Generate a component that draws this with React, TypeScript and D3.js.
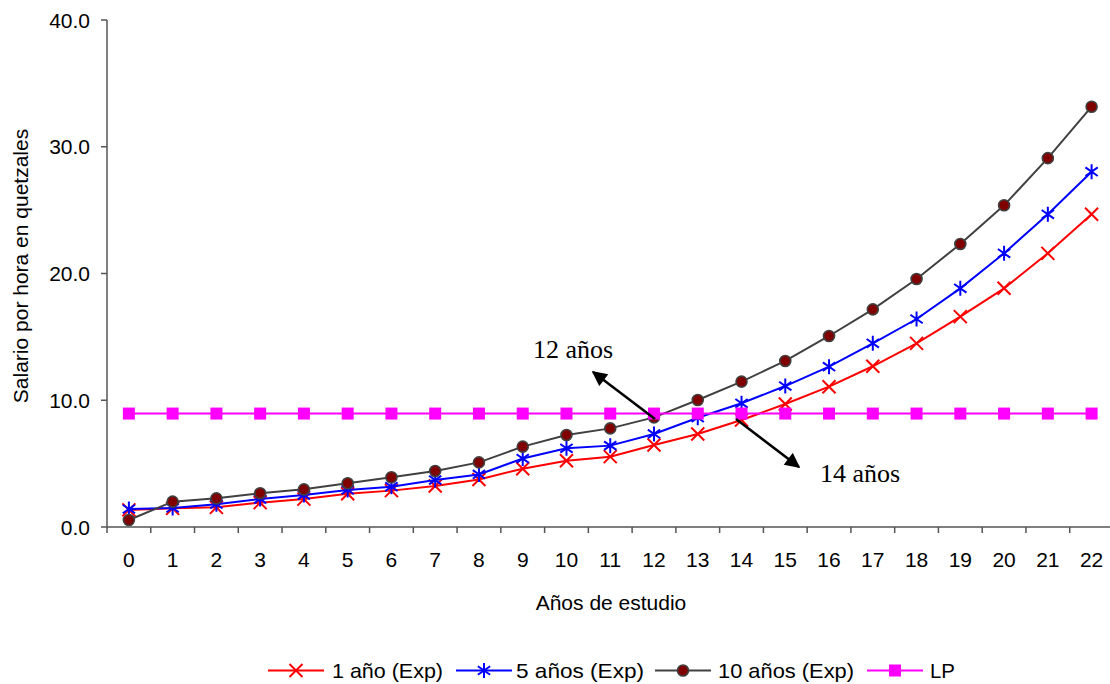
import React from "react";
import * as d3 from "d3";

// Años de estudio (eje X)
const years: string[] = Array.from({ length: 23 }, (_, i) => String(i));

// Salario por hora (quetzales) según experiencia
const exp1: number[] = [1.35, 1.47, 1.55, 1.92, 2.2, 2.62, 2.87, 3.23, 3.75, 4.6, 5.23, 5.55, 6.47, 7.34, 8.44, 9.7, 11.07, 12.68, 14.49, 16.6, 18.83, 21.59, 24.67];
const exp5: number[] = [1.42, 1.5, 1.8, 2.2, 2.52, 2.92, 3.18, 3.7, 4.15, 5.4, 6.21, 6.42, 7.34, 8.62, 9.76, 11.12, 12.65, 14.49, 16.41, 18.83, 21.59, 24.67, 28.03];
const exp10: number[] = [0.55, 2.0, 2.26, 2.66, 2.97, 3.45, 3.92, 4.42, 5.1, 6.34, 7.26, 7.78, 8.65, 10.02, 11.47, 13.1, 15.07, 17.17, 19.57, 22.33, 25.38, 29.1, 33.16];
const lp: number[] = years.map(() => 8.95);

const yTicks: number[] = [0, 10, 20, 30, 40];

const W = 1110;
const H = 684;
const left = 107;
const bandW = 43.76;
const top = 20;
const bottom = 527;

const sans = "Arial, 'Liberation Sans', Helvetica, sans-serif";
const serif = "'Times New Roman', 'Liberation Serif', serif";

type Kind = "x" | "star" | "dot" | "square";

function Marker({ kind, cx, cy }: { kind: Kind; cx: number; cy: number }) {
  if (kind === "x") {
    const s = 6.5;
    return (
      <path
        d={`M${cx - s},${cy - s}L${cx + s},${cy + s}M${cx - s},${cy + s}L${cx + s},${cy - s}`}
        stroke="#FF0000"
        strokeWidth={2}
        fill="none"
      />
    );
  }
  if (kind === "star") {
    const r = 7.5;
    const a = (Math.PI / 180) * 35;
    const dx = r * Math.cos(a);
    const dy = r * Math.sin(a);
    return (
      <path
        d={`M${cx},${cy - r}L${cx},${cy + r}M${cx - dx},${cy - dy}L${cx + dx},${cy + dy}M${cx - dx},${cy + dy}L${cx + dx},${cy - dy}`}
        stroke="#0000FF"
        strokeWidth={2}
        fill="none"
      />
    );
  }
  if (kind === "dot") {
    return <circle cx={cx} cy={cy} r={5.5} fill="#800000" stroke="#404040" strokeWidth={1.6} />;
  }
  return <rect x={cx - 6} y={cy - 6} width={12} height={12} fill="#FF00FF" />;
}

const seriesList: { name: string; values: number[]; color: string; kind: Kind }[] = [
  { name: "1 año (Exp)", values: exp1, color: "#FF0000", kind: "x" },
  { name: "5 años (Exp)", values: exp5, color: "#0000FF", kind: "star" },
  { name: "10 años (Exp)", values: exp10, color: "#404040", kind: "dot" },
  { name: "LP", values: lp, color: "#FF00FF", kind: "square" },
];

export default function App() {
  const x = d3.scaleBand<string>().domain(years).range([left, left + bandW * years.length]).padding(0);
  const y = d3.scaleLinear().domain([0, 40]).range([bottom, top]);
  const cx = (i: number) => (x(years[i]) as number) + x.bandwidth() / 2;

  const line = d3
    .line<number>()
    .x((_, i) => cx(i))
    .y((d) => y(d));

  // Leyenda: inicio de la línea de muestra, inicio y ancho del texto
  const legendItems = [
    { lx: 268, tx: 332, tw: 111 },
    { lx: 456, tx: 516, tw: 128 },
    { lx: 655, tx: 718, tw: 136 },
    { lx: 867, tx: 930, tw: 25 },
  ];
  const legendLen = 56;
  const legendY = 670.5;

  const axisColor = "#555555";

  return (
    <svg
      width={W}
      height={H}
      style={{ position: "absolute", left: 0, top: 0, background: "#ffffff" }}
      xmlns="http://www.w3.org/2000/svg"
    >
      <defs>
        <marker id="arrowHead" viewBox="0 0 10 10" refX="9" refY="5" markerWidth="7" markerHeight="6" markerUnits="strokeWidth" orient="auto">
          <path d="M0,0L10,5L0,10Z" fill="#000000" />
        </marker>
      </defs>

      {/* Eje Y */}
      <line x1={left} x2={left} y1={top} y2={bottom} stroke={axisColor} strokeWidth={1.5} />
      {yTicks.map((t) => (
        <g key={t}>
          <line x1={left - 6} x2={left} y1={y(t)} y2={y(t)} stroke={axisColor} strokeWidth={1.5} />
          <text x={90} y={y(t)} dy="0.36em" textAnchor="end" fontFamily={sans} fontSize={21} fill="#000">
            {t.toFixed(1)}
          </text>
        </g>
      ))}
      <text
        transform={`translate(28, 266) rotate(-90)`}
        textAnchor="middle"
        fontFamily={sans}
        fontSize={21}
        fill="#000"
      >
        Salario por hora en quetzales
      </text>

      {/* Eje X */}
      <line x1={left} x2={W} y1={bottom} y2={bottom} stroke={axisColor} strokeWidth={1.5} />
      {years.map((yr, i) => (
        <g key={yr}>
          <line
            x1={x(yr) as number}
            x2={x(yr) as number}
            y1={bottom}
            y2={bottom + 6}
            stroke={axisColor}
            strokeWidth={1.5}
          />
          <text x={cx(i)} y={567} textAnchor="middle" fontFamily={sans} fontSize={21} fill="#000">
            {yr}
          </text>
        </g>
      ))}
      <text x={611} y={610} textAnchor="middle" fontFamily={sans} fontSize={21} fill="#000">
        Años de estudio
      </text>

      {/* Series */}
      {seriesList.map((s) => (
        <g key={s.name}>
          <path d={line(s.values) ?? ""} fill="none" stroke={s.color} strokeWidth={2} />
          {s.values.map((v, i) => (
            <Marker key={i} kind={s.kind} cx={cx(i)} cy={y(v)} />
          ))}
        </g>
      ))}

      {/* Anotaciones */}
      <line x1={655} y1={419} x2={593} y2={372} stroke="#000" strokeWidth={2.5} markerEnd="url(#arrowHead)" />
      <line x1={736} y1={419} x2={799} y2={467} stroke="#000" strokeWidth={2.5} markerEnd="url(#arrowHead)" />
      <text x={533} y={358} fontFamily={serif} fontSize={26} fill="#000">
        12 años
      </text>
      <text x={820} y={482} fontFamily={serif} fontSize={26} fill="#000">
        14 años
      </text>

      {/* Leyenda */}
      {seriesList.map((s, k) => {
        const it = legendItems[k];
        return (
          <g key={s.name}>
            <line x1={it.lx} x2={it.lx + legendLen} y1={legendY} y2={legendY} stroke={s.color} strokeWidth={2} />
            <Marker kind={s.kind} cx={it.lx + legendLen / 2} cy={legendY} />
            <text
              x={it.tx}
              y={legendY}
              dy="0.36em"
              fontFamily={sans}
              fontSize={21}
              textLength={it.tw}
              lengthAdjust="spacingAndGlyphs"
              fill="#000"
            >
              {s.name}
            </text>
          </g>
        );
      })}
    </svg>
  );
}
